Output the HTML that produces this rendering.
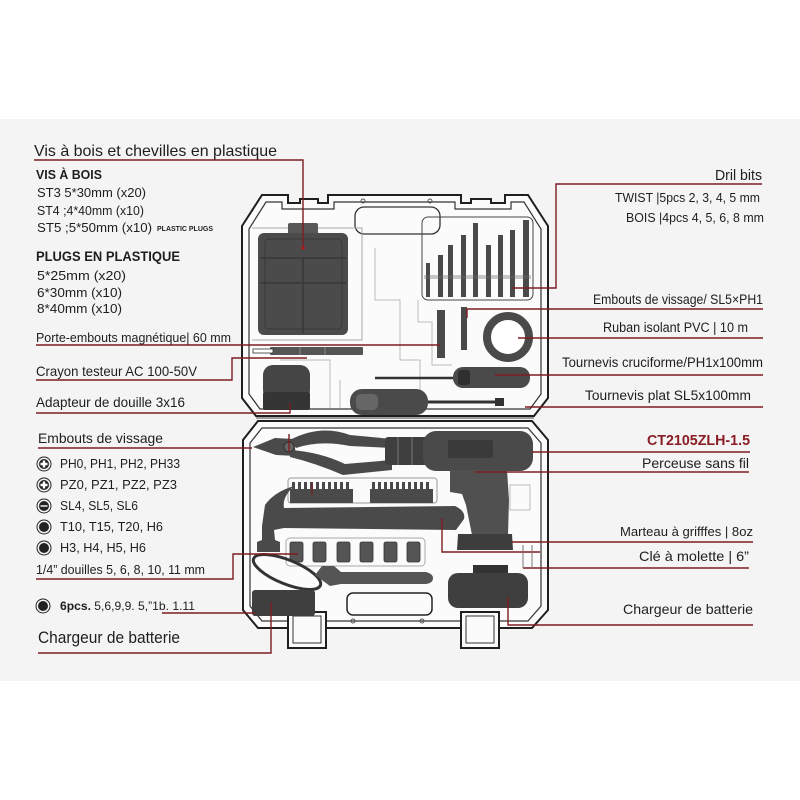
<!DOCTYPE html>
<html><head><meta charset="utf-8"><style>
html,body{margin:0;padding:0;background:#fff;}
svg{display:block;}
text{font-family:"Liberation Sans",sans-serif;fill:#1e1e1e;}
</style></head><body>
<svg width="800" height="800" viewBox="0 0 800 800" xmlns="http://www.w3.org/2000/svg">
<rect x="0" y="0" width="800" height="800" fill="#ffffff"/>
<rect x="0" y="119" width="800" height="562" fill="#f4f4f4"/>

<!-- UPPER LID -->
<path d="M242 226 L262 195 L288 195 L288 203 L300 203 L300 199 L318 199 L318 203 L328 203 L328 195 L461 195 L461 203 L471 203 L471 199 L491 199 L491 203 L505 203 L505 195 L528 195 L548 226 L548 398 L534 416 L256 416 L242 398 Z" fill="#fbfbfb" stroke="#1f1f1f" stroke-width="2"/>
<path d="M249 229 L266 202 L282 202 L282 209 L334 209 L334 202 L455 202 L455 209 L511 209 L511 202 L524 202 L541 229 L541 394 L530 409 L260 409 L249 394 Z" fill="none" stroke="#333" stroke-width="1.2"/>
<rect x="355" y="207" width="85" height="27" rx="9" fill="none" stroke="#333" stroke-width="1.3"/>
<circle cx="363" cy="201" r="2" fill="none" stroke="#555"/>
<circle cx="430" cy="201" r="2" fill="none" stroke="#555"/>
<!-- compartment lines -->
<path d="M252 228 L362 228 L362 340 L252 340" fill="none" stroke="#aaa" stroke-width="1"/>
<path d="M375 248 L375 300 L400 300 L400 360 L420 360 L420 390" fill="none" stroke="#bbb" stroke-width="1"/>
<path d="M418 300 L418 322 L432 322 L432 365 L452 365" fill="none" stroke="#bbb" stroke-width="1"/>
<path d="M340 380 L340 408 M280 360 L330 360 L330 408" fill="none" stroke="#bbb" stroke-width="1"/>

<!-- organizer box -->
<rect x="288" y="223" width="30" height="12" rx="2" fill="#585858"/>
<rect x="258" y="233" width="90" height="102" rx="6" fill="#4b4b4b"/>
<rect x="265" y="239" width="77" height="90" rx="4" fill="none" stroke="#3a3a3a" stroke-width="1"/>
<line x1="260" y1="258" x2="346" y2="258" stroke="#383838" stroke-width="1.5"/>
<line x1="260" y1="283" x2="346" y2="283" stroke="#383838" stroke-width="1.5"/>
<line x1="303" y1="258" x2="303" y2="333" stroke="#383838" stroke-width="1.5"/>

<!-- drill bits -->
<rect x="422" y="217" width="111" height="83" rx="6" fill="none" stroke="#444" stroke-width="1"/>
<g fill="#4a4a4a">
<rect x="426" y="263" width="4" height="34"/>
<rect x="438" y="255" width="5" height="42"/>
<rect x="448" y="245" width="5" height="52"/>
<rect x="461" y="235" width="5" height="62"/>
<rect x="473" y="223" width="5" height="74"/>
<rect x="486" y="245" width="5" height="52"/>
<rect x="498" y="235" width="5" height="62"/>
<rect x="510" y="230" width="5" height="67"/>
<rect x="523" y="220" width="6" height="77"/>
</g>
<rect x="424" y="275" width="107" height="4" fill="#666" opacity="0.35"/>

<!-- screwdriver bits -->
<rect x="437" y="310" width="8" height="48" fill="#4a4a4a"/>
<rect x="461" y="307" width="6" height="43" fill="#4a4a4a"/>
<!-- tape ring -->
<circle cx="508" cy="337" r="21" fill="#fff" stroke="#4a4a4a" stroke-width="8"/>
<!-- tester pen -->
<rect x="270" y="347" width="93" height="8" rx="1" fill="#555"/>
<rect x="253" y="349" width="20" height="4" fill="#fff" stroke="#333" stroke-width="0.8"/>
<line x1="300" y1="347" x2="300" y2="355" stroke="#888"/>
<line x1="325" y1="347" x2="325" y2="355" stroke="#888"/>
<!-- tape measure -->
<rect x="263" y="365" width="47" height="35" rx="10" fill="#454545"/>
<rect x="263" y="392" width="47" height="18" rx="2" fill="#353535"/>
<!-- phillips screwdriver -->
<line x1="375" y1="378" x2="455" y2="378" stroke="#333" stroke-width="2.5"/>
<rect x="453" y="367" width="77" height="21" rx="10" fill="#4a4a4a"/>
<rect x="458" y="370" width="12" height="15" rx="3" fill="#2f2f2f"/>
<!-- flat screwdriver -->
<rect x="350" y="389" width="78" height="26" rx="12" fill="#4a4a4a"/>
<rect x="356" y="394" width="22" height="16" rx="5" fill="#666"/>
<line x1="428" y1="402" x2="497" y2="402" stroke="#333" stroke-width="3"/>
<rect x="495" y="398" width="9" height="8" fill="#333"/>

<!-- hinge lines -->
<line x1="256" y1="418" x2="534" y2="418" stroke="#444" stroke-width="1"/>

<!-- LOWER CASE -->
<path d="M243 440 L258 421 L532 421 L548 440 L548 610 L532 628 L258 628 L243 610 Z" fill="#fbfbfb" stroke="#1f1f1f" stroke-width="2"/>
<path d="M250 443 L262 428 L528 428 L541 443 L541 606 L528 621 L262 621 L250 606 Z" fill="none" stroke="#333" stroke-width="1.2"/>
<!-- latches -->
<rect x="288" y="612" width="38" height="36" fill="#fbfbfb" stroke="#1f1f1f" stroke-width="2"/>
<rect x="293" y="616" width="28" height="27" fill="none" stroke="#333" stroke-width="1"/>
<rect x="461" y="612" width="38" height="36" fill="#fbfbfb" stroke="#1f1f1f" stroke-width="2"/>
<rect x="466" y="616" width="28" height="27" fill="none" stroke="#333" stroke-width="1"/>
<!-- handle cutout -->
<rect x="347" y="593" width="85" height="22" rx="6" fill="none" stroke="#222" stroke-width="1.5"/>
<circle cx="353" cy="621" r="2" fill="none" stroke="#555"/>
<circle cx="422" cy="621" r="2" fill="none" stroke="#555"/>
<rect x="510" y="485" width="20" height="25" fill="none" stroke="#bbb"/>

<!-- pliers -->
<path d="M253 447 L275 438 L294 439 L296 456 L276 455 Z" fill="#4a4a4a"/>
<path d="M290 440 Q320 424 350 435 L392 439 L392 448 L350 446 Q320 440 296 448 Z" fill="#4a4a4a"/>
<path d="M290 450 Q320 452 345 464 L392 460 L392 470 L343 475 Q315 463 290 457 Z" fill="#4a4a4a"/>
<circle cx="289" cy="447" r="5" fill="#666" stroke="#333"/>

<!-- drill -->
<rect x="385" y="437" width="43" height="28" rx="3" fill="#3f3f3f"/>
<line x1="398" y1="437" x2="398" y2="465" stroke="#666" stroke-width="1.5"/>
<line x1="412" y1="437" x2="412" y2="465" stroke="#666" stroke-width="1.5"/>
<rect x="423" y="431" width="110" height="40" rx="13" fill="#4a4a4a"/>
<rect x="448" y="440" width="45" height="18" rx="2" fill="#3a3a3a"/>
<path d="M450 470 L507 470 L509 500 L508 535 L472 535 L466 505 L462 494 L450 492 Z" fill="#505050"/>
<path d="M458 534 L512 534 L513 550 L457 550 Z" fill="#3d3d3d"/>

<!-- bit strips -->
<rect x="288" y="478" width="149" height="25" rx="3" fill="none" stroke="#999" stroke-width="1"/>
<rect x="290" y="489" width="63" height="14" fill="#4a4a4a"/>
<rect x="370" y="489" width="63" height="14" fill="#4a4a4a"/>
<g fill="#4a4a4a">
<rect x="292" y="482" width="3" height="8"/><rect x="298" y="482" width="3" height="8"/><rect x="304" y="482" width="3" height="8"/><rect x="310" y="482" width="3" height="8"/><rect x="316" y="482" width="3" height="8"/><rect x="322" y="482" width="3" height="8"/><rect x="328" y="482" width="3" height="8"/><rect x="334" y="482" width="3" height="8"/><rect x="340" y="482" width="3" height="8"/><rect x="346" y="482" width="3" height="8"/>
<rect x="372" y="482" width="3" height="8"/><rect x="378" y="482" width="3" height="8"/><rect x="384" y="482" width="3" height="8"/><rect x="390" y="482" width="3" height="8"/><rect x="396" y="482" width="3" height="8"/><rect x="402" y="482" width="3" height="8"/><rect x="408" y="482" width="3" height="8"/><rect x="414" y="482" width="3" height="8"/><rect x="420" y="482" width="3" height="8"/><rect x="426" y="482" width="3" height="8"/>
</g>

<!-- hammer -->
<path d="M283 508 L455 506 Q466 511 464 519 L456 530 L283 528 Z" fill="#4a4a4a"/>
<path d="M265 505 Q274 492 294 486 Q282 497 284 508 L284 528 L274 530 L275 540 L280 542 L280 552 L257 552 L257 542 L262 540 L262 526 Z" fill="#4a4a4a"/>

<!-- sockets -->
<rect x="286" y="538" width="139" height="28" rx="4" fill="none" stroke="#aaa" stroke-width="1"/>
<g fill="#555" stroke="#333" stroke-width="0.8">
<rect x="290" y="542" width="13" height="20" rx="2"/>
<rect x="313" y="542" width="13" height="20" rx="2"/>
<rect x="337" y="542" width="13" height="20" rx="2"/>
<rect x="360" y="542" width="13" height="20" rx="2"/>
<rect x="384" y="542" width="13" height="20" rx="2"/>
<rect x="407" y="542" width="13" height="20" rx="2"/>
</g>

<!-- charger cable & box -->
<ellipse cx="287" cy="572" rx="36" ry="12" transform="rotate(22 287 572)" fill="none" stroke="#333" stroke-width="3"/>
<rect x="252" y="590" width="63" height="26" rx="3" fill="#3f3f3f"/>
<!-- wrench -->
<path d="M315 575 L322 566 L334 566 L341 572 L426 572 Q433 574 433 578 Q433 583 426 584 L341 584 L330 586 Z" fill="#555"/>
<!-- battery -->
<rect x="473" y="565" width="35" height="10" fill="#333"/>
<rect x="448" y="573" width="80" height="35" rx="10" fill="#3f3f3f"/>

<!-- CONNECTOR LINES -->
<g fill="none" stroke="#7d1d22" stroke-width="1.4">
<polyline points="34,160 303,160 303,248"/>
<line x1="36" y1="345" x2="440" y2="345"/>
<polyline points="36,380 232,380 232,358 307,358"/>
<polyline points="36,413 290,413 290,403"/>
<line x1="38" y1="448" x2="252" y2="448"/>
<line x1="289" y1="434" x2="289" y2="452"/>
<line x1="312" y1="483" x2="312" y2="495"/>
<polyline points="36,579 233,579 233,554 298,554"/>
<line x1="162" y1="613" x2="255" y2="613"/>
<polyline points="38,653 271,653 271,602"/>
<polyline points="512,288 556,288 556,184 762,184"/>
<polyline points="467,318 467,309 763,309"/>
<line x1="518" y1="338" x2="763" y2="338"/>
<line x1="495" y1="375" x2="763" y2="375"/>
<line x1="525" y1="407" x2="763" y2="407"/>
<line x1="532" y1="452" x2="750" y2="452"/>
<line x1="475" y1="472" x2="749" y2="472"/>
<line x1="512" y1="542" x2="753" y2="542"/>
<polyline points="442,518 442,552 540,552"/>
<line x1="523" y1="568" x2="749" y2="568"/>
<polyline points="508,597 508,625 753,625"/>
</g>
<g stroke="#777" stroke-width="1">
<line x1="523" y1="545" x2="523" y2="568"/>
<line x1="532" y1="545" x2="532" y2="568"/>
</g>
<circle cx="303" cy="248" r="2" fill="#a02020"/>

<!-- LEFT TEXT -->
<text x="34" y="156" font-size="16" textLength="243" lengthAdjust="spacingAndGlyphs">Vis à bois et chevilles en plastique</text>
<text x="36" y="179" font-size="12.5" font-weight="bold" textLength="66" lengthAdjust="spacingAndGlyphs">VIS À BOIS</text>
<text x="37" y="197" font-size="12.5" textLength="109" lengthAdjust="spacingAndGlyphs">ST3 5*30mm (x20)</text>
<text x="37" y="215" font-size="12.5" textLength="107" lengthAdjust="spacingAndGlyphs">ST4 ;4*40mm (x10)</text>
<text x="37" y="232" font-size="12.5" textLength="115" lengthAdjust="spacingAndGlyphs">ST5 ;5*50mm (x10)</text>
<text x="157" y="231" font-size="7" font-weight="bold" textLength="56" lengthAdjust="spacingAndGlyphs">PLASTIC PLUGS</text>
<text x="36" y="261" font-size="13.5" font-weight="bold" textLength="144" lengthAdjust="spacingAndGlyphs">PLUGS EN PLASTIQUE</text>
<text x="37" y="280" font-size="12.5" textLength="89" lengthAdjust="spacingAndGlyphs">5*25mm (x20)</text>
<text x="37" y="297" font-size="12.5" textLength="85" lengthAdjust="spacingAndGlyphs">6*30mm (x10)</text>
<text x="37" y="313" font-size="12.5" textLength="85" lengthAdjust="spacingAndGlyphs">8*40mm (x10)</text>
<text x="36" y="342" font-size="13" textLength="195" lengthAdjust="spacingAndGlyphs">Porte-embouts magnétique| 60 mm</text>
<text x="36" y="376" font-size="14" textLength="161" lengthAdjust="spacingAndGlyphs">Crayon testeur AC 100-50V</text>
<text x="36" y="407" font-size="14" textLength="149" lengthAdjust="spacingAndGlyphs">Adapteur de douille 3x16</text>
<text x="38" y="443" font-size="14" textLength="125" lengthAdjust="spacingAndGlyphs">Embouts de vissage</text>

<!-- icons -->
<g>
<circle cx="44" cy="464" r="7" fill="none" stroke="#222" stroke-width="1"/><circle cx="44" cy="464" r="5" fill="#222"/>
<path d="M42.8 460.5 h2.4 v2.3 h2.3 v2.4 h-2.3 v2.3 h-2.4 v-2.3 h-2.3 v-2.4 h2.3 z" fill="#fff"/>
<circle cx="44" cy="485" r="7" fill="none" stroke="#222" stroke-width="1"/><circle cx="44" cy="485" r="5" fill="#222"/>
<path d="M42.8 481.5 h2.4 v2.3 h2.3 v2.4 h-2.3 v2.3 h-2.4 v-2.3 h-2.3 v-2.4 h2.3 z" fill="#fff"/>
<circle cx="44" cy="506" r="7" fill="none" stroke="#222" stroke-width="1"/><circle cx="44" cy="506" r="5" fill="#222"/>
<rect x="40.5" y="505.3" width="7" height="1.4" fill="#fff"/>
<circle cx="44" cy="527" r="7" fill="none" stroke="#222" stroke-width="1"/><circle cx="44" cy="527" r="5" fill="#222"/>
<circle cx="44" cy="548" r="7" fill="none" stroke="#222" stroke-width="1"/><circle cx="44" cy="548" r="5" fill="#222"/>
<circle cx="43" cy="606" r="7" fill="none" stroke="#222" stroke-width="1"/><circle cx="43" cy="606" r="5" fill="#222"/>
</g>
<text x="60" y="468" font-size="13" textLength="120" lengthAdjust="spacingAndGlyphs">PH0, PH1, PH2, PH33</text>
<text x="60" y="489" font-size="13" textLength="117" lengthAdjust="spacingAndGlyphs">PZ0, PZ1, PZ2, PZ3</text>
<text x="60" y="510" font-size="13" textLength="78" lengthAdjust="spacingAndGlyphs">SL4, SL5, SL6</text>
<text x="60" y="531" font-size="13" textLength="103" lengthAdjust="spacingAndGlyphs">T10, T15, T20, H6</text>
<text x="60" y="552" font-size="13" textLength="86" lengthAdjust="spacingAndGlyphs">H3, H4, H5, H6</text>
<text x="36" y="574" font-size="13" textLength="169" lengthAdjust="spacingAndGlyphs">1/4” douilles 5, 6, 8, 10, 11 mm</text>
<text x="60" y="610" font-size="12" textLength="135" lengthAdjust="spacingAndGlyphs"><tspan font-weight="bold">6pcs.</tspan> 5,6,9,9. 5,”1b. 1.11</text>
<text x="38" y="643" font-size="17" textLength="142" lengthAdjust="spacingAndGlyphs">Chargeur de batterie</text>

<!-- RIGHT TEXT -->
<text x="715" y="180" font-size="15" textLength="47" lengthAdjust="spacingAndGlyphs">Dril bits</text>
<text x="615" y="202" font-size="13" textLength="145" lengthAdjust="spacingAndGlyphs">TWIST |5pcs 2, 3, 4, 5 mm</text>
<text x="626" y="222" font-size="13" textLength="138" lengthAdjust="spacingAndGlyphs">BOIS |4pcs 4, 5, 6, 8 mm</text>
<text x="593" y="304" font-size="13.5" textLength="170" lengthAdjust="spacingAndGlyphs">Embouts de vissage/ SL5×PH1</text>
<text x="603" y="332" font-size="13.5" textLength="145" lengthAdjust="spacingAndGlyphs">Ruban isolant PVC | 10 m</text>
<text x="562" y="367" font-size="13.5" textLength="201" lengthAdjust="spacingAndGlyphs">Tournevis cruciforme/PH1x100mm</text>
<text x="585" y="400" font-size="13.5" textLength="166" lengthAdjust="spacingAndGlyphs">Tournevis plat SL5x100mm</text>
<text x="647" y="445" font-size="14.5" font-weight="bold" style="fill:#8a1c25" textLength="103" lengthAdjust="spacingAndGlyphs">CT2105ZLH-1.5</text>
<text x="642" y="468" font-size="14" textLength="107" lengthAdjust="spacingAndGlyphs">Perceuse sans fil</text>
<text x="620" y="536" font-size="13" textLength="133" lengthAdjust="spacingAndGlyphs">Marteau à grifffes | 8oz</text>
<text x="639" y="561" font-size="14" textLength="110" lengthAdjust="spacingAndGlyphs">Clé à molette | 6”</text>
<text x="623" y="614" font-size="14" textLength="130" lengthAdjust="spacingAndGlyphs">Chargeur de batterie</text>
</svg>
</body></html>
